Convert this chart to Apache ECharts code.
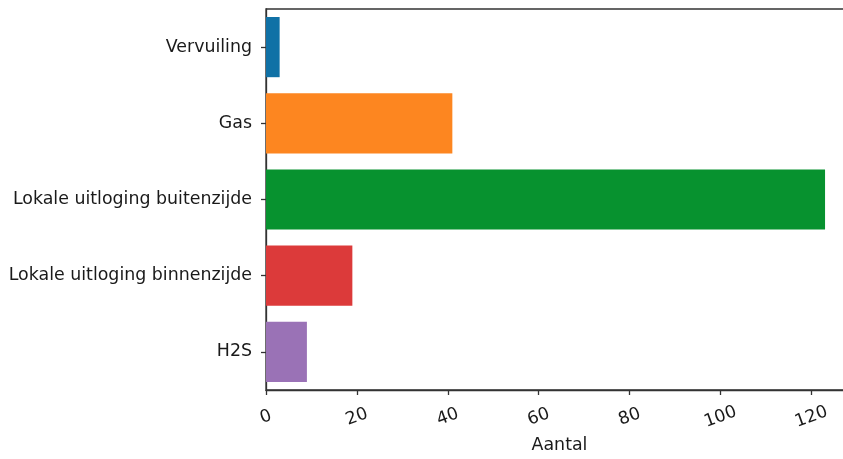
<!DOCTYPE html>
<html>
<head>
<meta charset="utf-8">
<script src="https://cdn.jsdelivr.net/npm/echarts@6/dist/echarts.min.js"></script>
<style>
html,body{margin:0;padding:0;background:#fff;}
#chart{width:843px;height:459px;}
</style>
</head>
<body>
<div id="chart"></div>
<script>
const categories = ['Vervuiling', 'Gas', 'Lokale uitloging buitenzijde', 'Lokale uitloging binnenzijde', 'H2S'];
const values = [3, 41, 123, 19, 9];
const colors = ['#1071a6', '#fd8620', '#07922f', '#dc3a3a', '#9a72b6'];
const xTicks = [0, 20, 40, 60, 80, 100, 120];
const xTitle = 'Aantal';

const chart = echarts.init(document.getElementById('chart'));
const font = 'DejaVu Sans';
chart.setOption({
  animation: false,
  grid: {left: 266, top: 9, width: 587, height: 381, show: true, borderColor: '#333', borderWidth: 1.3,
    containLabel: false, outerBoundsMode: 'none'},
  xAxis: {
    type: 'value', min: 0, max: 129.15, interval: 20,
    name: xTitle, nameLocation: 'middle', nameGap: 47,
    nameTextStyle: {fontFamily: font, fontSize: 17.4, color: '#1a1a1a'},
    axisLine: {show: true, lineStyle: {color: '#333', width: 1.3}},
    axisTick: {show: true, length: 5, lineStyle: {color: '#333', width: 1.3}},
    splitLine: {show: false},
    axisLabel: {rotate: 20, align: 'center', verticalAlign: 'middle', margin: 27, showMaxLabel: false,
      fontFamily: font, fontSize: 17.4, color: '#1a1a1a',
      formatter: v => xTicks.includes(v) ? String(v) : ''}
  },
  yAxis: {
    type: 'category', data: categories, inverse: true,
    axisLine: {show: true, lineStyle: {color: '#333', width: 1.3}},
    axisTick: {show: true, length: 5, alignWithLabel: true, lineStyle: {color: '#333', width: 1.3}},
    axisLabel: {fontFamily: font, fontSize: 17.4, color: '#1a1a1a', margin: 14}
  },
  series: [{
    type: 'bar', barWidth: '79%',
    data: values.map((v, i) => ({value: v, itemStyle: {color: colors[i]}}))
  }]
});
</script>
</body>
</html>
